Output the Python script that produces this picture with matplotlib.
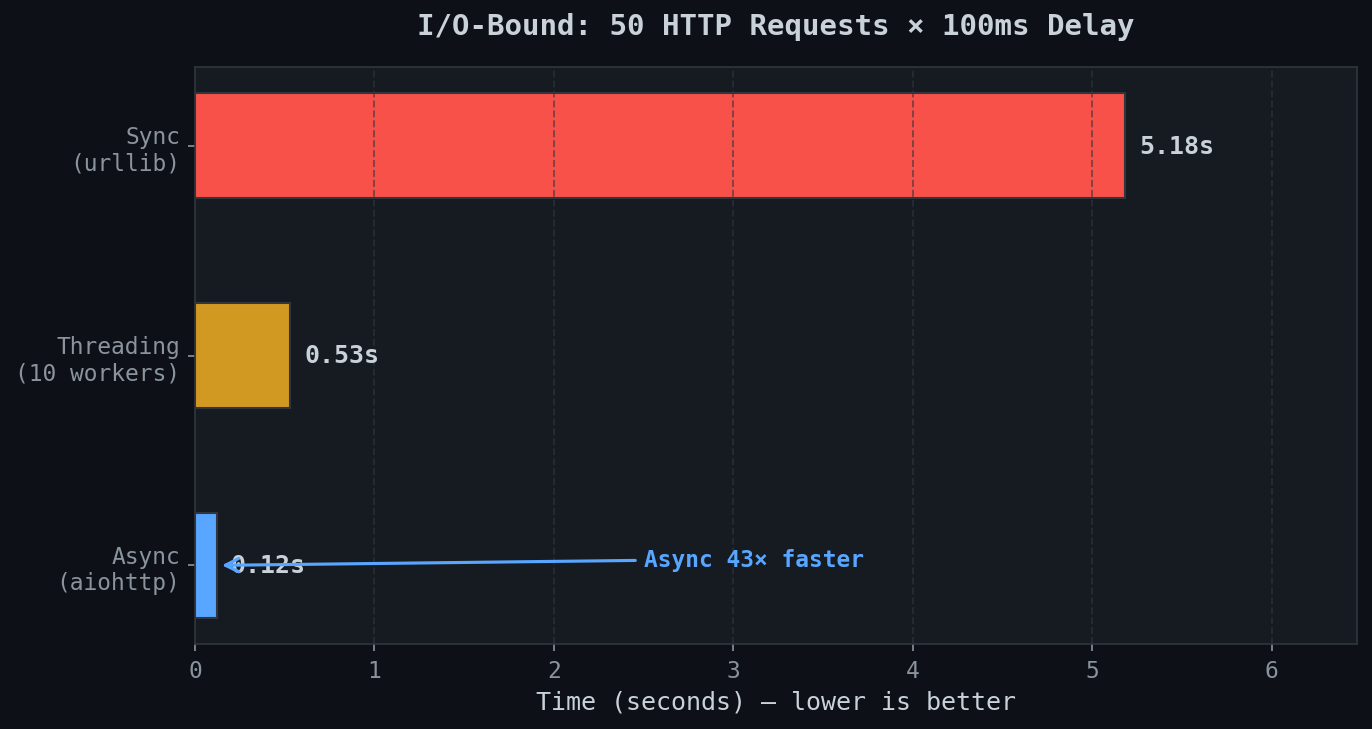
import matplotlib
matplotlib.use('Agg')
import matplotlib.pyplot as plt

# Benchmark results (seconds)
labels = ['Sync\n(urllib)', 'Threading\n(10 workers)', 'Async\n(aiohttp)']
times = [5.18, 0.53, 0.12]
colors = ['#f85149', '#d29922', '#58a6ff']
speedup = 43

plt.rcParams['font.family'] = ['DejaVu Sans Mono']

fig = plt.figure(figsize=(1372 / 150, 730 / 150), dpi=150, facecolor='#0d1117')
ax = fig.add_axes([195 / 1372, 1 - 645 / 730, (1357 - 195) / 1372, (645 - 68) / 730])
ax.set_facecolor('#161b22')

y = list(range(len(labels)))
ax.barh(y, times, height=0.5, color=colors, edgecolor='#30363d', linewidth=1.0)
ax.set_yticks(y)
ax.set_yticklabels(labels)
ax.invert_yaxis()
ax.set_xlim(0, max(times) * 1.25)

# value labels
for i, t in enumerate(times):
    ax.text(t + 0.08, i, f'{t:.2f}s', va='center', ha='left', fontsize=12,
            fontweight='bold', color='#c9d1d9')

# speedup annotation
ax.annotate(f'Async {speedup}× faster', xy=(0.15, 2), xytext=(2.5, 1.97),
            fontsize=11, fontweight='bold', color='#58a6ff', va='center', ha='left',
            arrowprops=dict(arrowstyle='->', color='#58a6ff', lw=1.5, shrinkB=0,
                            mutation_scale=16))

ax.set_title('I/O-Bound: 50 HTTP Requests × 100ms Delay', fontsize=14,
             fontweight='bold', color='#c9d1d9', pad=16)
ax.set_xlabel('Time (seconds) — lower is better', fontsize=12, color='#c9d1d9')

ax.grid(axis='x', color='#30363d', linestyle='--', alpha=0.6, linewidth=0.9)
for s in ax.spines.values():
    s.set_color('#30363d')
ax.tick_params(colors='#8b949e', labelsize=11)

fig.savefig('out.png', dpi=150, facecolor=fig.get_facecolor())
